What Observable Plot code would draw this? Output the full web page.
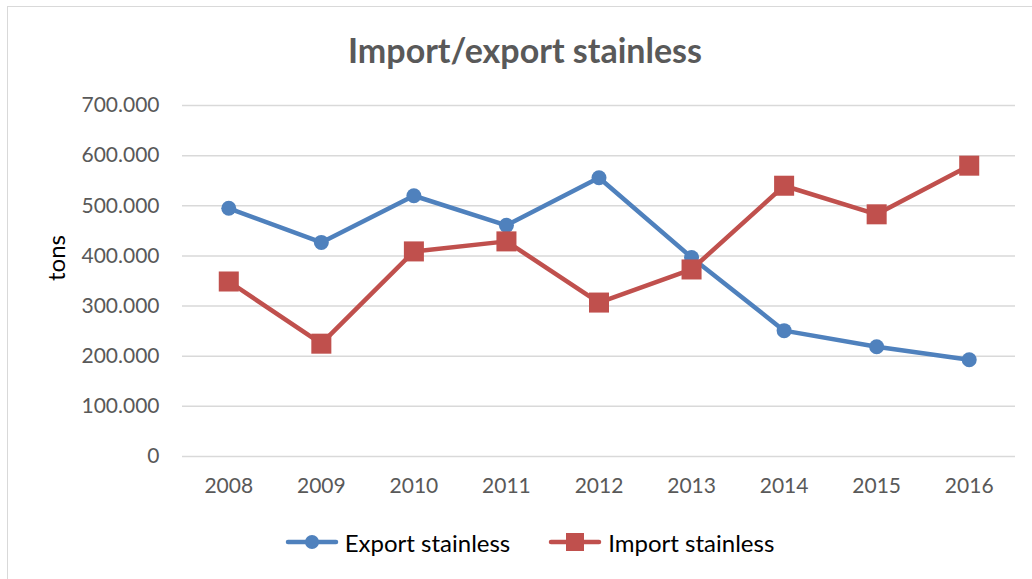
<!DOCTYPE html>
<html>
<head>
<meta charset="utf-8">
<script src="https://cdn.jsdelivr.net/npm/d3@7"></script>
<script src="https://cdn.jsdelivr.net/npm/@observablehq/plot@0.6"></script>
<style>
  html, body { margin: 0; padding: 0; background: #fff; }
  body { width: 1032px; height: 579px; overflow: hidden; position: relative; font-family: Lato, "Open Sans", sans-serif; }
  #frame { position: absolute; left: 7px; top: 6px; width: 1040px; height: 600px; border: 1px solid #d9d9d9; box-sizing: border-box; }
  #title { position: absolute; left: 0; top: 0; width: 1032px; height: 85px; box-sizing: border-box; padding-left: 18px; text-align: center; line-height: 100px; font-size: 34px; font-weight: bold; color: #595959; }
  #chart { position: absolute; left: 0; top: 85px; }
  #legend { position: absolute; left: 0; top: 526px; width: 1032px; height: 32px; display: flex; justify-content: center; align-items: center; padding-left: 27px; box-sizing: border-box; }
  .item { display: flex; align-items: center; font-size: 24px; color: #000; margin: 0 19px; }
  .item svg { margin-right: 6px; }
</style>
</head>
<body>
<div id="frame"></div>
<div id="title">Import/export stainless</div>
<div id="chart"></div>
<div id="legend"></div>
<script>
const years = ["2008","2009","2010","2011","2012","2013","2014","2015","2016"];
const exportTons = [495000, 427000, 520000, 461000, 556000, 397000, 251000, 219000, 193000];
const importTons = [349000, 225000, 409000, 429000, 307000, 373000, 540000, 483000, 580000];
const yTicks = [0, 100000, 200000, 300000, 400000, 500000, 600000, 700000];
const seriesNames = ["Export stainless", "Import stainless"];
const seriesColors = ["#4f81bd", "#c0504d"];

const data = [];
years.forEach((y, i) => {
  data.push({year: y, value: exportTons[i], series: seriesNames[0]});
  data.push({year: y, value: importTons[i], series: seriesNames[1]});
});
const exportData = data.filter(d => d.series === seriesNames[0]);
const importData = data.filter(d => d.series === seriesNames[1]);

const fmt = d3.formatLocale({decimal: ",", thousands: ".", grouping: [3], currency: ["", ""]}).format(",");

const plot = Plot.plot({
  width: 1032,
  height: 426,
  marginTop: 20,
  marginBottom: 55,
  marginLeft: 182,
  marginRight: 17,
  style: {fontFamily: "Lato, 'Open Sans', sans-serif", fontSize: "21px", color: "#595959", background: "transparent"},
  x: {type: "point", domain: years, padding: 0.5, round: false, label: null},
  y: {domain: [0, 700000], label: null},
  color: {domain: seriesNames, range: seriesColors},
  marks: [
    Plot.ruleY(yTicks, {stroke: "#d9d9d9", strokeWidth: 1.5}),
    Plot.axisX({tickSize: 0, tickPadding: 22, fontSize: 21, label: null}),
    Plot.axisY({ticks: yTicks, tickSize: 0, tickPadding: 23, tickFormat: fmt, fontSize: 21, label: null}),
    Plot.text(["tons"], {frameAnchor: "left", dx: -125, rotate: -90, fontSize: 24, fill: "#000"}),
    Plot.line(exportData, {x: "year", y: "value", stroke: seriesColors[0], strokeWidth: 4.5, strokeLinejoin: "round", strokeLinecap: "round"}),
    Plot.line(importData, {x: "year", y: "value", stroke: seriesColors[1], strokeWidth: 4.5, strokeLinejoin: "round", strokeLinecap: "round"}),
    Plot.dot(exportData, {x: "year", y: "value", symbol: "circle", r: 7.5, fill: seriesColors[0], stroke: "none"}),
    Plot.dot(importData, {x: "year", y: "value", symbol: "square", r: 11.3, fill: seriesColors[1], stroke: "none"})
  ]
});
document.getElementById("chart").appendChild(plot);

const legend = document.getElementById("legend");
seriesNames.forEach((name, i) => {
  const item = document.createElement("div");
  item.className = "item";
  const marker = i === 0
    ? `<circle cx="27" cy="12" r="7" fill="${seriesColors[i]}"/>`
    : `<rect x="18" y="3" width="18" height="18" fill="${seriesColors[i]}"/>`;
  item.innerHTML = `<svg width="54" height="24"><line x1="3" x2="51" y1="12" y2="12" stroke="${seriesColors[i]}" stroke-width="4.5" stroke-linecap="round"/>${marker}</svg><span>${name}</span>`;
  legend.appendChild(item);
});
</script>
</body>
</html>
